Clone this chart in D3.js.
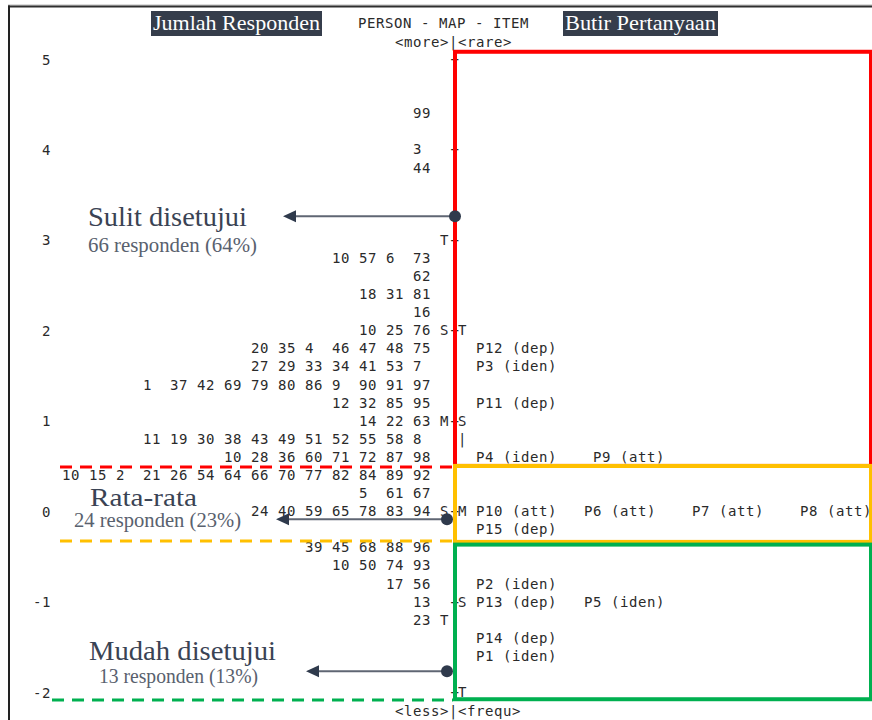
<!DOCTYPE html>
<html>
<head>
<meta charset="utf-8">
<script src="https://cdn.jsdelivr.net/npm/d3@7"></script>
<style>
  html, body { margin: 0; padding: 0; background: #fff; }
  svg { display: block; }
  .mono { font-family: "DejaVu Sans Mono", monospace; font-size: 14px; letter-spacing: 0.57px; fill: #2a2a2a; white-space: pre; }
  .serif { font-family: "Liberation Serif", "Times New Roman", serif; }
</style>
</head>
<body>
<svg id="chart" width="872" height="720"></svg>
<script>
// ---- Wright map data (logit measures) ----
const logitTicks = [5, 4, 3, 2, 1, 0, -1, -2];

// Respondent ids sitting at each person level
const personLevels = [4.4, 4.0, 3.8, 2.8, 2.6, 2.4, 2.2, 2.0, 1.8, 1.6, 1.4, 1.2, 1.0, 0.8, 0.6, 0.4, 0.2, 0.0, -0.4, -0.6, -0.8, -1.0, -1.2];
const personIds = [
  ["99"],
  ["3"],
  ["44"],
  ["10", "57", "6", "73"],
  ["62"],
  ["18", "31", "81"],
  ["16"],
  ["10", "25", "76"],
  ["20", "35", "4", "46", "47", "48", "75"],
  ["27", "29", "33", "34", "41", "53", "7"],
  ["1", "37", "42", "69", "79", "80", "86", "9", "90", "91", "97"],
  ["12", "32", "85", "95"],
  ["14", "22", "63"],
  ["11", "19", "30", "38", "43", "49", "51", "52", "55", "58", "8"],
  ["10", "28", "36", "60", "71", "72", "87", "98"],
  ["10", "15", "2", "21", "26", "54", "64", "66", "70", "77", "82", "84", "89", "92"],
  ["5", "61", "67"],
  ["24", "40", "59", "65", "78", "83", "94"],
  ["39", "45", "68", "88", "96"],
  ["10", "50", "74", "93"],
  ["17", "56"],
  ["13"],
  ["23"]
];

// Questionnaire items at each item level
const itemLevels = [1.8, 1.6, 1.2, 0.6, 0.0, -0.2, -0.8, -1.0, -1.4, -1.6];
const itemLabels = [
  "P12 (dep)",
  "P3 (iden)",
  "P11 (dep)",
  "P4 (iden)    P9 (att)",
  "P10 (att)   P6 (att)    P7 (att)    P8 (att)",
  "P15 (dep)",
  "P2 (iden)",
  "P13 (dep)   P5 (iden)",
  "P14 (dep)",
  "P1 (iden)"
];

// Mean / S.D. / 2 S.D. markers on each side of the axis
const personMarkLevels = [3, 2, 1, 0, -1.2];
const personMarks = ["T", "S", "M", "S", "T"];
const itemMarkLevels = [2, 1, 0.8, 0, -1, -2];
const itemMarks = ["T", "S", "|", "M", "S", "T"];

// Agreement groups
const groupLabels = ["Sulit disetujui", "Rata-rata", "Mudah disetujui"];
const groupCounts = [66, 24, 13];
const groupShares = [64, 23, 13];
const groupTop = [5.08, 0.5, -0.37];
const groupBottom = [0.5, -0.34, -2.08];

// ---- drawing ----
const svg = d3.select("#chart");
const W = 872, H = 720;

const y = d3.scaleLinear().domain([5, -2]).range([59, 692]);

// Column grid of the text map
const cw = 9;                 // character cell width
const axisX = 449;            // start of the axis column
const personMarkX = axisX - cw;
const personCellX = k => axisX - 4 * cw - k * 3 * cw;   // k = 0 is the cell next to the axis
const itemMarkX = axisX + cw;
const itemLabelX = axisX + 3 * cw;

// Page frame
svg.append("line").attr("x1", 8).attr("x2", W).attr("y1", 5).attr("y2", 5)
  .attr("stroke", "#d0d0d0").attr("stroke-width", 1.5);
svg.append("line").attr("x1", 8).attr("x2", W).attr("y1", 6.5).attr("y2", 6.5)
  .attr("stroke", "#2f2f2f").attr("stroke-width", 2);
svg.append("line").attr("x1", 9).attr("x2", 9).attr("y1", 5.5).attr("y2", H)
  .attr("stroke", "#222").attr("stroke-width", 2);

// Logit axis labels
const axis = d3.axisLeft(y).tickValues(logitTicks).tickSize(0).tickPadding(0)
  .tickFormat(d => String(d));
const gAxis = svg.append("g").attr("transform", "translate(51,0)").call(axis);
gAxis.select(".domain").remove();
gAxis.selectAll("text")
  .attr("class", "mono").attr("dy", "0.36em")
  .style("font-family", "'DejaVu Sans Mono', monospace").style("font-size", "14px")
  .style("fill", "#2a2a2a");

// Header lines
svg.append("text").attr("class", "mono").attr("x", 358).attr("y", 23).attr("dy", "0.36em")
  .text("PERSON - MAP - ITEM");
svg.append("text").attr("class", "mono").attr("x", axisX - 6 * cw).attr("y", 42).attr("dy", "0.36em")
  .text("<more>|<rare>");
svg.append("text").attr("class", "mono").attr("x", axisX - 6 * cw).attr("y", 711).attr("dy", "0.36em")
  .text("<less>|<frequ>");

// Axis column: '+' on whole logits, '|' between
const axisRows = d3.range(0, 36).map(i => +(5 - i * 0.2).toFixed(1));
svg.append("g").selectAll("text").data(axisRows).join("text")
  .attr("class", "mono").attr("x", axisX + 1.5).attr("y", d => y(d)).attr("dy", "0.36em")
  .text(d => Number.isInteger(d) ? "+" : "|");

// Person ids, right-aligned in 3-character cells
const personG = svg.append("g");
personLevels.forEach((lv, r) => {
  const ids = personIds[r];
  const n = ids.length;
  personG.selectAll(null).data(ids).join("text")
    .attr("class", "mono")
    .attr("x", (d, i) => personCellX(n - 1 - i))
    .attr("y", y(lv)).attr("dy", "0.36em")
    .text(d => d);
});

// Markers
svg.append("g").selectAll("text").data(personMarks).join("text")
  .attr("class", "mono").attr("x", personMarkX)
  .attr("y", (d, i) => y(personMarkLevels[i])).attr("dy", "0.36em").text(d => d);
svg.append("g").selectAll("text").data(itemMarks).join("text")
  .attr("class", "mono").attr("x", itemMarkX)
  .attr("y", (d, i) => y(itemMarkLevels[i])).attr("dy", "0.36em").text(d => d);

// Items
svg.append("g").selectAll("text").data(itemLabels).join("text")
  .attr("class", "mono").attr("xml:space", "preserve")
  .attr("x", itemLabelX)
  .attr("y", (d, i) => y(itemLevels[i])).attr("dy", "0.36em")
  .text(d => d);

// Group boxes on the item side and dashed cut lines on the person side
const groupColors = ["#ff0000", "#ffc000", "#00b050"];
const boxLeft = 455, boxRight = 871;
const dashStart = [60, 60, 52];
const dashY = [467, 541, 700];
groupLabels.forEach((g, i) => {
  svg.append("rect")
    .attr("x", boxLeft).attr("y", y(groupTop[i]))
    .attr("width", boxRight - boxLeft).attr("height", y(groupBottom[i]) - y(groupTop[i]))
    .attr("fill", "none").attr("stroke", groupColors[i]).attr("stroke-width", 4);
});
// orange top edge drawn over the red bottom edge
svg.append("line").attr("x1", boxLeft).attr("x2", boxRight)
  .attr("y1", y(groupTop[1])).attr("y2", y(groupTop[1]))
  .attr("stroke", groupColors[1]).attr("stroke-width", 4);
groupLabels.forEach((g, i) => {
  svg.append("line")
    .attr("x1", dashStart[i]).attr("x2", boxLeft - 2)
    .attr("y1", dashY[i]).attr("y2", dashY[i])
    .attr("stroke", groupColors[i]).attr("stroke-width", 3)
    .attr("stroke-dasharray", "12,8");
});

// Column headers
const headers = [
  { text: "Jumlah Responden", x: 151, w: 171 },
  { text: "Butir Pertanyaan", x: 563, w: 155 }
];
headers.forEach(h => {
  svg.append("rect").attr("x", h.x).attr("y", 11).attr("width", h.w).attr("height", 25)
    .attr("fill", "#353d4b");
  svg.append("text").attr("class", "serif")
    .attr("x", h.x + h.w / 2).attr("y", 30).attr("text-anchor", "middle")
    .attr("font-size", 22).attr("fill", "#fff")
    .attr("textLength", h.w - 4).attr("lengthAdjust", "spacingAndGlyphs")
    .text(h.text);
});

// Callouts: arrow from the item axis to the group description
const callouts = [
  { lv: 3.26, dotX: 455, tipX: 283, tx: 88, ty: 226, tw: 159, ts: 28, sx: 88, sy: 252, sw: 169 },
  { lv: -0.09, dotX: 447, tipX: 276, tx: 90, ty: 506, tw: 107, ts: 25, sx: 74, sy: 527, sw: 167 },
  { lv: -1.77, dotX: 447, tipX: 306, tx: 89, ty: 660, tw: 187, ts: 28, sx: 99, sy: 683, sw: 159 }
];
callouts.forEach((c, i) => {
  const cy = y(c.lv);
  svg.append("line").attr("x1", c.dotX).attr("x2", c.tipX + 10)
    .attr("y1", cy).attr("y2", cy)
    .attr("stroke", "#5f6673").attr("stroke-width", 2);
  svg.append("path")
    .attr("d", `M${c.tipX},${cy} L${c.tipX + 13},${cy - 6} L${c.tipX + 13},${cy + 6} Z`)
    .attr("fill", "#2f3a4c");
  svg.append("circle").attr("cx", c.dotX).attr("cy", cy).attr("r", 6)
    .attr("fill", "#2f3a4c");
  svg.append("text").attr("class", "serif")
    .attr("x", c.tx).attr("y", c.ty).attr("font-size", c.ts).attr("fill", "#3a4354")
    .attr("textLength", c.tw).attr("lengthAdjust", "spacingAndGlyphs")
    .text(groupLabels[i]);
  svg.append("text").attr("class", "serif")
    .attr("x", c.sx).attr("y", c.sy).attr("font-size", 20).attr("fill", "#59616e")
    .attr("textLength", c.sw).attr("lengthAdjust", "spacingAndGlyphs")
    .text(`${groupCounts[i]} responden (${groupShares[i]}%)`);
});
</script>
</body>
</html>
